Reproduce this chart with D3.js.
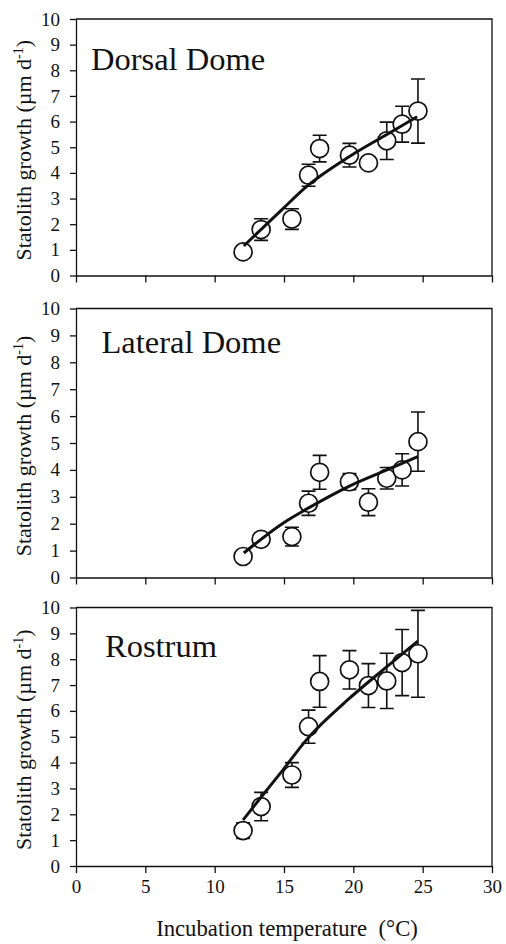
<!DOCTYPE html>
<html>
<head>
<meta charset="utf-8">
<script src="https://cdn.jsdelivr.net/npm/d3@7/dist/d3.min.js"></script>
<style>
  body { margin: 0; background: #fff; }
  .domain, .tick line { stroke: #111; stroke-width: 1.3px; }
</style>
</head>
<body>
<div id="chart"></div>
<script>
// incubation temperatures (same for all three statolith regions)
const temps = [12.05, 13.35, 15.57, 16.77, 17.57, 19.72, 21.09, 22.41, 23.52, 24.66];

// mean growth and SE
const dorsalMean = [0.92, 1.79, 2.2, 3.91, 4.95, 4.69, 4.39, 5.25, 5.9, 6.41];
const dorsalSE   = [0.1, 0.42, 0.4, 0.43, 0.52, 0.46, 0.15, 0.73, 0.7, 1.25];
const lateralMean = [0.78, 1.42, 1.52, 2.76, 3.91, 3.56, 2.8, 3.69, 4.0, 5.05];
const lateralSE   = [0.1, 0.15, 0.35, 0.45, 0.63, 0.3, 0.5, 0.4, 0.6, 1.1];
const rostrumMean = [1.37, 2.3, 3.52, 5.39, 7.14, 7.59, 6.98, 7.16, 7.87, 8.21];
const rostrumSE   = [0.3, 0.55, 0.48, 0.64, 1.0, 0.74, 0.85, 1.07, 1.28, 1.68];

// fitted curves
const dorsalFitT = [12.1, 14.95, 16.7, 19.75, 22.42, 24.6];
const dorsalFitV = [1.15, 2.62, 3.5, 4.65, 5.5, 6.19];
const lateralFitT = [12.1, 14.93, 16.65, 19.72, 22.42, 24.65];
const lateralFitV = [0.91, 2.02, 2.55, 3.4, 4.0, 4.49];
const rostrumFitT = [12.05, 13.37, 14.93, 16.62, 19.73, 22.4, 24.65];
const rostrumFitV = [1.78, 2.68, 3.72, 4.88, 6.49, 7.7, 8.7];

const panelNames = ['Dorsal Dome', 'Lateral Dome', 'Rostrum'];
const xTicks = [0, 5, 10, 15, 20, 25, 30];
const yTicks = [0, 1, 2, 3, 4, 5, 6, 7, 8, 9, 10];

const serif = 'Liberation Serif';
const width = 506, height = 944;
const left = 76, right = 492;

// vertical placement of each panel and its title
const layout = [
  { top: 19, bottom: 275.5, titleX: 91, titleY: 70 },
  { top: 308.5, bottom: 577.5, titleX: 101.5, titleY: 353 },
  { top: 607.5, bottom: 866, titleX: 105, titleY: 656.5 }
];

const svg = d3.select('#chart')
  .append('svg')
    .attr('width', width)
    .attr('height', height);

const xScale = d3.scaleLinear().domain([0, 30]).range([left, right]);

function drawPanel(i, means, ses, fitT, fitV) {
  const box = layout[i];
  const yScale = d3.scaleLinear().domain([0, 10]).range([box.bottom, box.top]);
  const g = svg.append('g');

  // frame (top and right)
  g.append('path')
    .attr('d', 'M' + left + ',' + box.top + 'H' + right + 'V' + box.bottom)
    .attr('fill', 'none')
    .attr('stroke', '#111')
    .attr('stroke-width', 1.3);

  const xAxis = g.append('g')
    .attr('transform', 'translate(0,' + box.bottom + ')')
    .call(d3.axisBottom(xScale).tickValues(xTicks).tickSize(7).tickSizeOuter(0).tickPadding(7));
  if (i < 2) xAxis.selectAll('text').remove();

  g.append('g')
    .attr('transform', 'translate(' + left + ',0)')
    .call(d3.axisLeft(yScale).tickValues(yTicks).tickSize(6).tickSizeOuter(0).tickPadding(10));

  g.selectAll('.tick text')
    .attr('font-family', serif)
    .attr('font-size', 19)
    .attr('fill', '#111');

  // y label with superscript
  const yl = g.append('text')
    .attr('transform', 'translate(31,' + ((box.top + box.bottom) / 2 + 3) + ') rotate(-90)')
    .attr('text-anchor', 'middle')
    .attr('font-family', serif)
    .attr('font-size', 22)
    .attr('fill', '#111');
  yl.append('tspan').text('Statolith growth (µm d');
  yl.append('tspan').attr('font-size', 14).attr('dy', -8).text('-1');
  yl.append('tspan').attr('dy', 8).text(')');

  g.append('text')
    .attr('x', box.titleX)
    .attr('y', box.titleY)
    .attr('font-family', serif)
    .attr('font-size', 32.5)
    .attr('fill', '#111')
    .text(panelNames[i]);

  const pts = temps.map((t, k) => ({ t: t, v: means[k], se: ses[k] }));

  // error bars
  const bars = g.append('g')
    .attr('stroke', '#111')
    .attr('stroke-width', 1.6)
    .attr('fill', 'none');
  pts.forEach(d => {
    const x = xScale(d.t), y0 = yScale(d.v - d.se), y1 = yScale(d.v + d.se);
    bars.append('path')
      .attr('d', 'M' + x + ',' + y0 + 'V' + y1 +
        'M' + (x - 7) + ',' + y0 + 'H' + (x + 7) +
        'M' + (x - 7) + ',' + y1 + 'H' + (x + 7));
  });

  g.append('g')
    .selectAll('circle')
    .data(pts)
    .enter().append('circle')
      .attr('cx', d => xScale(d.t))
      .attr('cy', d => yScale(d.v))
      .attr('r', 9)
      .attr('fill', '#fff')
      .attr('stroke', '#111')
      .attr('stroke-width', 1.7);

  const line = d3.line()
    .x(d => xScale(d[0]))
    .y(d => yScale(d[1]))
    .curve(d3.curveMonotoneX);

  g.append('path')
    .datum(fitT.map((t, k) => [t, fitV[k]]))
    .attr('d', line)
    .attr('fill', 'none')
    .attr('stroke', '#111')
    .attr('stroke-width', 3);
}

drawPanel(0, dorsalMean, dorsalSE, dorsalFitT, dorsalFitV);
drawPanel(1, lateralMean, lateralSE, lateralFitT, lateralFitV);
drawPanel(2, rostrumMean, rostrumSE, rostrumFitT, rostrumFitV);

svg.append('text')
  .attr('x', 287)
  .attr('y', 936)
  .attr('text-anchor', 'middle')
  .attr('font-family', serif)
  .attr('font-size', 22.7)
  .attr('fill', '#111')
  .attr('xml:space', 'preserve')
  .style('white-space', 'pre')
  .text('Incubation temperature  (°C)');
</script>
</body>
</html>
